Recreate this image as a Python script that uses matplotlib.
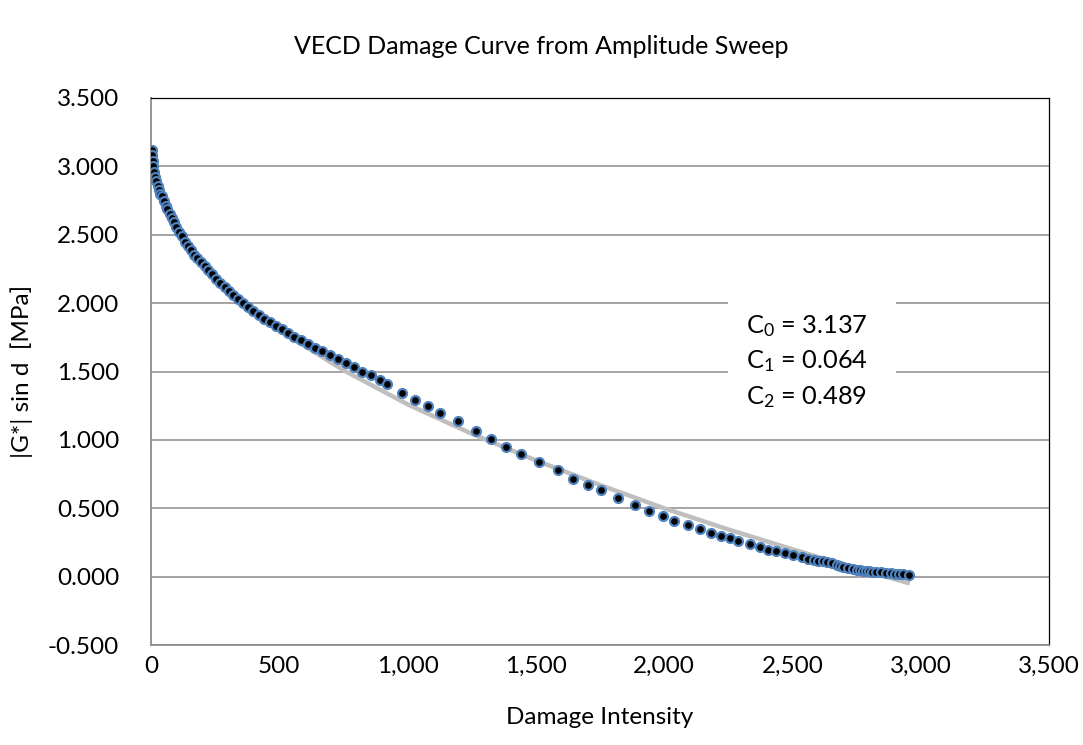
import matplotlib
matplotlib.use("Agg")
import matplotlib.pyplot as plt
from matplotlib.ticker import FuncFormatter, MultipleLocator
from matplotlib.patches import Rectangle

# measured points (damage intensity, |G*| sin d)
damage = [2, 4, 6, 9, 12, 16, 20, 26, 31, 37, 43, 50, 57, 64, 73, 81, 90, 99,
          110, 120, 131, 143, 156, 168, 181, 194, 209, 223, 238, 254, 270, 287,
          304, 321, 340, 358, 378, 398, 419, 440, 463, 486, 510, 534, 559, 584,
          611, 639, 667, 697, 728, 759, 793, 824, 858, 892, 918, 977, 1029,
          1079, 1126, 1197, 1267, 1327, 1384, 1441, 1514, 1587, 1644, 1702,
          1752, 1822, 1886, 1942, 1995, 2040, 2094, 2139, 2181, 2220, 2257,
          2289, 2334, 2373, 2406, 2436, 2470, 2503, 2536, 2562, 2584, 2600,
          2620, 2633, 2653, 2672, 2685, 2698, 2717, 2737, 2751, 2763, 2775,
          2788, 2800, 2812, 2825, 2847, 2866, 2886, 2901, 2917, 2932, 2953]
g_sin = [3.12, 3.08, 3.04, 3.00, 2.96, 2.92, 2.89, 2.86, 2.83, 2.80, 2.78,
         2.745, 2.71, 2.685, 2.655, 2.62, 2.59, 2.555, 2.52, 2.49, 2.45, 2.42,
         2.385, 2.355, 2.33, 2.30, 2.27, 2.24, 2.21, 2.18, 2.145, 2.115, 2.09,
         2.06, 2.03, 2.00, 1.97, 1.94, 1.91, 1.885, 1.86, 1.835, 1.81, 1.78,
         1.755, 1.73, 1.70, 1.675, 1.65, 1.62, 1.59, 1.56, 1.53, 1.50, 1.475,
         1.44, 1.41, 1.342, 1.288, 1.245, 1.196, 1.135, 1.064, 1.003, 0.947,
         0.898, 0.837, 0.779, 0.715, 0.67, 0.63, 0.573, 0.525, 0.478, 0.441,
         0.41, 0.378, 0.346, 0.32, 0.30, 0.28, 0.264, 0.239, 0.215, 0.198,
         0.185, 0.173, 0.159, 0.146, 0.129, 0.123, 0.117, 0.111, 0.105, 0.096,
         0.088, 0.08, 0.073, 0.065, 0.056, 0.05, 0.046, 0.043, 0.04, 0.038,
         0.036, 0.035, 0.033, 0.028, 0.024, 0.022, 0.02, 0.018, 0.015]

# fitted model curve as drawn (C0 - C1 * S^C2)
fit_damage = [0, 10, 25, 50, 100, 175, 250, 350, 500, 750, 1000, 1250, 1500,
              1750, 2000, 2250, 2500, 2750, 2958]
fit_g = [3.137, 2.94, 2.83, 2.70, 2.53, 2.33, 2.19, 2.01, 1.80, 1.51, 1.26,
         1.045, 0.85, 0.67, 0.50, 0.345, 0.20, 0.06, -0.05]

coef_text = [r"C$_0$ = 3.137", r"C$_1$ = 0.064", r"C$_2$ = 0.489"]

plt.rcParams["font.family"] = ["Lato", "DejaVu Sans"]
plt.rcParams["mathtext.fontset"] = "custom"
plt.rcParams["mathtext.rm"] = "Lato"
plt.rcParams["mathtext.it"] = "Lato"

W, H = 1083, 745
fig = plt.figure(figsize=(W / 100, H / 100), dpi=100)
ax = fig.add_axes([151 / W, 1 - 645 / H, 898 / W, 547 / H])

ax.plot(fit_damage, fit_g, color="#bfbfbf", lw=3.2, zorder=2,
        solid_capstyle="butt")
ax.plot(damage, g_sin, ls="none", marker="o", ms=6.4, mfc="black",
        mec="#4f81bd", mew=1.6, zorder=3)

ax.set_xlim(0, 3500)
ax.set_ylim(-0.5, 3.5)
ax.xaxis.set_major_locator(MultipleLocator(500))
ax.yaxis.set_major_locator(MultipleLocator(0.5))
ax.xaxis.set_major_formatter(FuncFormatter(lambda v, p: f"{v:,.0f}"))
ax.yaxis.set_major_formatter(FuncFormatter(lambda v, p: f"{v:.3f}"))
ax.tick_params(length=0, labelsize=17.5, colors="black")
ax.tick_params(axis="y", pad=23)
ax.tick_params(axis="x", pad=8)

ax.set_axisbelow(True)
ax.grid(axis="y", color="#8c8c8c", lw=1.1)
for side in ["left", "bottom"]:
    ax.spines[side].set_color("#8c8c8c")
    ax.spines[side].set_linewidth(1.3)
for side in ["top", "right"]:
    ax.spines[side].set_color("black")
    ax.spines[side].set_linewidth(0.9)

# white label box over the gridlines
ax.add_patch(Rectangle((728 / W, 1 - 420 / H), 168 / W, 130 / H,
                       transform=fig.transFigure, facecolor="white",
                       edgecolor="none", zorder=1))
for i, t in enumerate(coef_text):
    fig.text(746 / W, 1 - (326 + 35.5 * i) / H, t, fontsize=18.3,
             ha="left", va="center")

fig.text(541 / W, 1 - 47 / H, "VECD Damage Curve from Amplitude Sweep",
         fontsize=18, ha="center", va="center")
fig.text(600 / W, 1 - 718 / H, "Damage Intensity", fontsize=17.5,
         ha="center", va="center")
fig.text(22 / W, 1 - 371 / H, "|G*| sin d  [MPa]", fontsize=17.5,
         ha="center", va="center", rotation=90)

fig.savefig("out.png", dpi=100)
